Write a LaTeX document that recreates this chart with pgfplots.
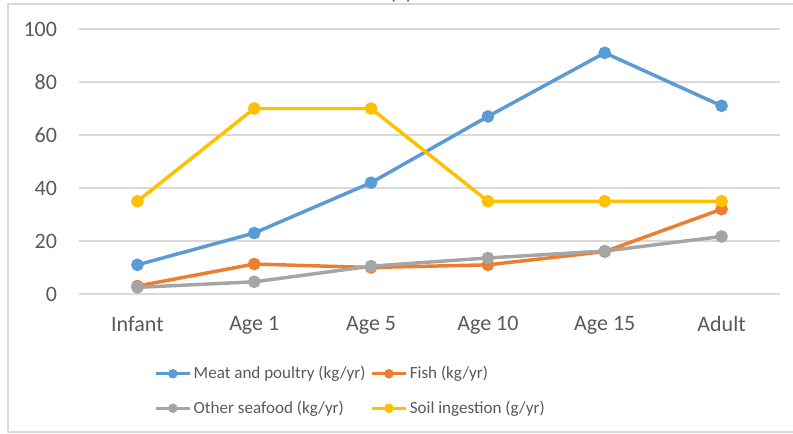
\documentclass[border=0pt]{standalone}
\usepackage{pgfplots}
\pgfplotsset{compat=1.18}
\usepackage{fontspec}
\setmainfont{Carlito}
\definecolor{cblue}{HTML}{5B9BD5}
\definecolor{corange}{HTML}{ED7D31}
\definecolor{cgray}{HTML}{A5A5A5}
\definecolor{cgold}{HTML}{FFC000}
\definecolor{txt}{HTML}{595959}
\definecolor{gridc}{HTML}{D9D9D9}
\begin{document}
\begin{tikzpicture}
\clip (0pt,0pt) rectangle (594.75pt,325.5pt);
\path (0pt,0pt) rectangle (594.75pt,325.5pt);
\draw[gridc, line width=1.1pt] (594.75pt,322.5pt) -- (6pt,322.5pt) -- (6pt,1.5pt) -- (594.75pt,1.5pt);
\node[anchor=base, font=\fontsize{16}{18}\selectfont, text=txt] at (300.75pt,325.5pt) {(a)};
\begin{axis}[
  at={(59.25pt,105pt)}, anchor=south west,
  scale only axis, width=525.75pt, height=198.75pt,
  xmin=-0.5, xmax=5.5, ymin=0, ymax=100,
  xtick={0,1,2,3,4,5},
  xticklabels={Infant,Age 1,Age 5,Age 10,Age 15,Adult},
  ytick={0,20,40,60,80,100},
  ymajorgrids, grid style={color=gridc, line width=1.1pt},
  axis line style={draw=none},
  major tick length=0pt,
  tick label style={font=\fontsize{16.5}{19}\selectfont, text=txt},
  /pgf/number format/assume math mode=true,
  yticklabel style={xshift=-13pt},
  xticklabel style={yshift=-13pt},
  every axis plot/.append style={line width=2.6pt, mark=*, mark size=3.4pt},
  legend columns=2,
  legend cell align=left,
  legend style={draw=none, fill=none, at={(0.101,-0.255)}, anchor=north west,
    font=\fontsize{12.8}{14}\selectfont, text=txt, row sep=12pt,
    nodes={inner sep=1.5pt},
    /tikz/every even column/.append style={column sep=2pt}},
  legend image code/.code={
    \draw[#1, line width=2.2pt, mark size=2.4pt, mark repeat=2, mark phase=2]
      plot coordinates {(0pt,0pt) (13pt,0pt) (26pt,0pt)};},
]
\addplot[cblue] coordinates {(0,11) (1,23) (2,42) (3,67) (4,91) (5,71)};
\addlegendentry{Meat and poultry (kg/yr)}
\addplot[corange] coordinates {(0,3) (1,11.3) (2,10) (3,11) (4,16) (5,32)};
\addlegendentry{Fish (kg/yr)}
\addplot[cgray] coordinates {(0,2.5) (1,4.6) (2,10.5) (3,13.6) (4,16.2) (5,21.7)};
\addlegendentry{Other seafood (kg/yr)}
\addplot[cgold] coordinates {(0,35) (1,70) (2,70) (3,35) (4,35) (5,35)};
\addlegendentry{Soil ingestion (g/yr)}
\end{axis}
\end{tikzpicture}
\end{document}
